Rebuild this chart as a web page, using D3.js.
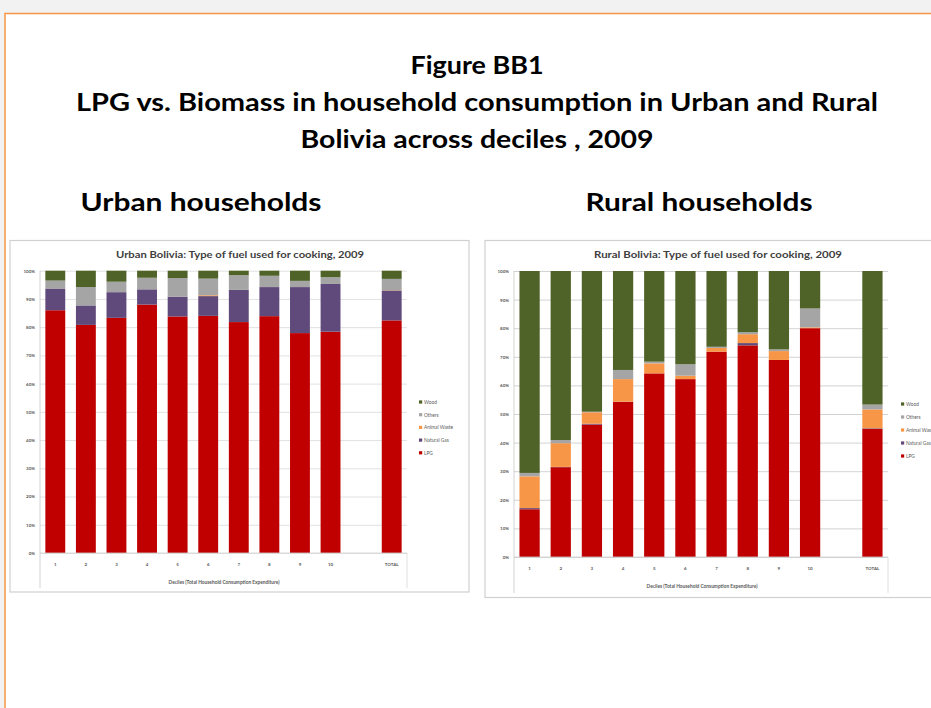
<!DOCTYPE html>
<html>
<head>
<meta charset="utf-8">
<script src="https://cdn.jsdelivr.net/npm/d3@7"></script>
<style>
  body { margin: 0; background: #f2f2f2; }
  svg { display: block; font-family: Lato, "Open Sans", sans-serif; }
</style>
</head>
<body>
<div id="figure"></div>
<script>
// categories (blank slot between decile 10 and TOTAL)
const deciles = ["1", "2", "3", "4", "5", "6", "7", "8", "9", "10", "TOTAL"];
const slots = ["1", "2", "3", "4", "5", "6", "7", "8", "9", "10", " ", "TOTAL"];
const fuels = ["LPG", "Natural Gas", "Animal Waste", "Others", "Wood"];
const fuelColors = ["#c00000", "#604a7b", "#f79646", "#a5a5a5", "#4f6228"];
const yTicks = [0, 10, 20, 30, 40, 50, 60, 70, 80, 90, 100];

// Urban shares (%), per decile + total
const urbanLPG          = [86.0, 80.8, 83.3, 88.0, 83.8, 84.0, 81.8, 83.9, 77.9, 78.4, 82.4];
const urbanNaturalGas   = [7.7, 6.9, 9.1, 5.4, 7.0, 7.0, 11.4, 10.3, 16.3, 16.9, 10.6];
const urbanAnimalWaste  = [0, 0, 0, 0, 0, 0.3, 0, 0, 0, 0, 0.1];
const urbanOthers       = [2.8, 6.5, 3.7, 4.1, 6.6, 5.9, 5.2, 4.0, 2.2, 2.4, 4.0];
const urbanWood         = [3.5, 5.8, 3.9, 2.5, 2.6, 2.8, 1.6, 1.8, 3.6, 2.3, 2.9];

// Rural shares (%)
const ruralLPG          = [16.7, 31.4, 46.3, 54.2, 64.2, 62.2, 71.8, 74.0, 68.9, 80.0, 44.8];
const ruralNaturalGas   = [0.4, 0.1, 0.3, 0.1, 0, 0, 0, 0.8, 0, 0, 0.2];
const ruralAnimalWaste  = [11.1, 8.3, 4.0, 7.9, 3.5, 1.2, 1.3, 3.1, 3.1, 0.3, 6.6];
const ruralOthers       = [1.2, 1.1, 0.2, 3.2, 0.6, 4.0, 0.4, 0.7, 0.6, 6.6, 1.7];
const ruralWood         = [70.6, 59.1, 49.2, 34.6, 31.7, 32.6, 26.5, 21.4, 27.4, 13.1, 46.7];

const W = 931, H = 708;

const svg = d3.select("#figure").append("svg")
    .attr("width", W)
    .attr("height", H);

// page frame with the orange border
svg.append("rect").attr("width", W).attr("height", H).attr("fill", "#f2f2f2");
svg.append("rect")
    .attr("x", 5).attr("y", 13.5)
    .attr("width", W + 20).attr("height", H + 20)
    .attr("fill", "#fff")
    .attr("stroke", "#f79646")
    .attr("stroke-width", 1.5);

// headings
function heading(txt, x, y, len) {
    svg.append("text")
        .attr("x", x).attr("y", y)
        .attr("text-anchor", "middle")
        .attr("font-size", 24)
        .attr("font-weight", "bold")
        .attr("fill", "#000")
        .attr("textLength", len)
        .attr("lengthAdjust", "spacingAndGlyphs")
        .text(txt);
}
heading("Figure BB1", 477, 74, 133);
heading("LPG vs. Biomass in household consumption in Urban and Rural", 477, 111, 802);
heading("Bolivia across deciles , 2009", 477, 148, 353);
heading("Urban  households", 201, 211, 241);
heading("Rural  households", 699, 211, 227);

function drawChart(cfg) {
    const g = svg.append("g");

    // chart area box
    g.append("rect")
        .attr("x", cfg.box[0]).attr("y", cfg.box[1])
        .attr("width", cfg.box[2]).attr("height", cfg.box[3])
        .attr("fill", "#fff")
        .attr("stroke", "#d0d0d0")
        .attr("stroke-width", 1.2);

    g.append("text")
        .attr("x", cfg.titleX).attr("y", cfg.top - 13)
        .attr("text-anchor", "middle")
        .attr("font-size", 9)
        .attr("font-weight", "bold")
        .attr("fill", "#404040")
        .attr("textLength", 248)
        .attr("lengthAdjust", "spacingAndGlyphs")
        .text(cfg.title);

    const x = d3.scaleBand().domain(slots)
        .range([cfg.left, cfg.right])
        .paddingInner(0.35).paddingOuter(0.175);
    const y = d3.scaleLinear().domain([0, 100]).range([cfg.bottom, cfg.top]);

    // gridlines + y labels
    const yAxis = d3.axisLeft(y).tickValues(yTicks)
        .tickFormat(d => d + "%")
        .tickSize(-(cfg.right - cfg.left))
        .tickPadding(5);
    const ya = g.append("g")
        .attr("transform", "translate(" + cfg.left + ",0)")
        .call(yAxis);
    ya.select(".domain").remove();
    ya.selectAll("line").attr("stroke", cfg.gridColor).attr("stroke-width", 0.8);
    ya.selectAll("text")
        .attr("font-size", 4.5)
        .attr("font-weight", "bold")
        .attr("fill", "#595959")
        .attr("font-family", "Lato, sans-serif");

    // stacked bars
    const rows = deciles.map((d, i) => {
        const r = { cat: d };
        fuels.forEach((f, k) => r[f] = cfg.series[k][i]);
        return r;
    });
    const stack = d3.stack().keys(fuels)(rows);
    g.append("g").selectAll("g")
        .data(stack)
        .join("g")
        .attr("fill", (d, k) => fuelColors[k])
        .selectAll("rect")
        .data(d => d)
        .join("rect")
        .attr("x", d => x(d.data.cat))
        .attr("width", x.bandwidth())
        .attr("y", d => y(d[1]))
        .attr("height", d => Math.max(0, y(d[0]) - y(d[1])));

    // category axis box
    g.append("line")
        .attr("x1", cfg.left).attr("x2", cfg.right)
        .attr("y1", cfg.bottom).attr("y2", cfg.bottom)
        .attr("stroke", "#d0d0d0").attr("stroke-width", 0.8);
    g.append("line")
        .attr("x1", cfg.left).attr("x2", cfg.left)
        .attr("y1", cfg.top).attr("y2", cfg.axisEnd)
        .attr("stroke", "#c8c8c8").attr("stroke-width", 0.8);
    g.append("line")
        .attr("x1", cfg.right).attr("x2", cfg.right)
        .attr("y1", cfg.bottom).attr("y2", cfg.axisEnd)
        .attr("stroke", "#d8d8d8").attr("stroke-width", 0.8);

    g.append("g").selectAll("text")
        .data(deciles)
        .join("text")
        .attr("x", d => x(d) + x.bandwidth() / 2)
        .attr("y", cfg.bottom + 13)
        .attr("text-anchor", "middle")
        .attr("font-size", 4.5)
        .attr("font-weight", "bold")
        .attr("fill", "#595959")
        .text(d => d);

    g.append("text")
        .attr("x", cfg.axisTitleX).attr("y", cfg.bottom + 31)
        .attr("text-anchor", "middle")
        .attr("font-size", 4.8)
        .attr("font-weight", "bold")
        .attr("fill", "#595959")
        .text("Deciles (Total Household Consumption Expenditure)");

    // legend, top item is the top of the stack
    const legend = g.append("g")
        .attr("transform", "translate(" + cfg.legend[0] + "," + cfg.legend[1] + ")");
    const items = fuels.slice().reverse();
    const li = legend.selectAll("g")
        .data(items)
        .join("g")
        .attr("transform", (d, i) => "translate(0," + (i * cfg.legendStep) + ")");
    li.append("rect")
        .attr("x", 0).attr("y", -1.6)
        .attr("width", 3.2).attr("height", 3.2)
        .attr("fill", d => fuelColors[fuels.indexOf(d)]);
    li.append("text")
        .attr("x", 5).attr("y", 1.8)
        .attr("font-size", 4.8)
        .attr("fill", "#595959")
        .text(d => d);
}

drawChart({
    box: [10, 240.5, 459, 351.5],
    title: "Urban Bolivia: Type of fuel used for cooking, 2009",
    titleX: 240,
    left: 40, right: 407, top: 270.7, bottom: 553, axisEnd: 588,
    axisTitleX: 224,
    gridColor: "#d9d9d9",
    series: [urbanLPG, urbanNaturalGas, urbanAnimalWaste, urbanOthers, urbanWood],
    legend: [419, 402], legendStep: 12.7
});

drawChart({
    box: [485, 240.5, 470, 357],
    title: "Rural Bolivia: Type of fuel used for cooking, 2009",
    titleX: 718,
    left: 514, right: 888, top: 271, bottom: 557, axisEnd: 593,
    axisTitleX: 702,
    gridColor: "#c8c8c8",
    series: [ruralLPG, ruralNaturalGas, ruralAnimalWaste, ruralOthers, ruralWood],
    legend: [901, 404], legendStep: 13
});
</script>
</body>
</html>
